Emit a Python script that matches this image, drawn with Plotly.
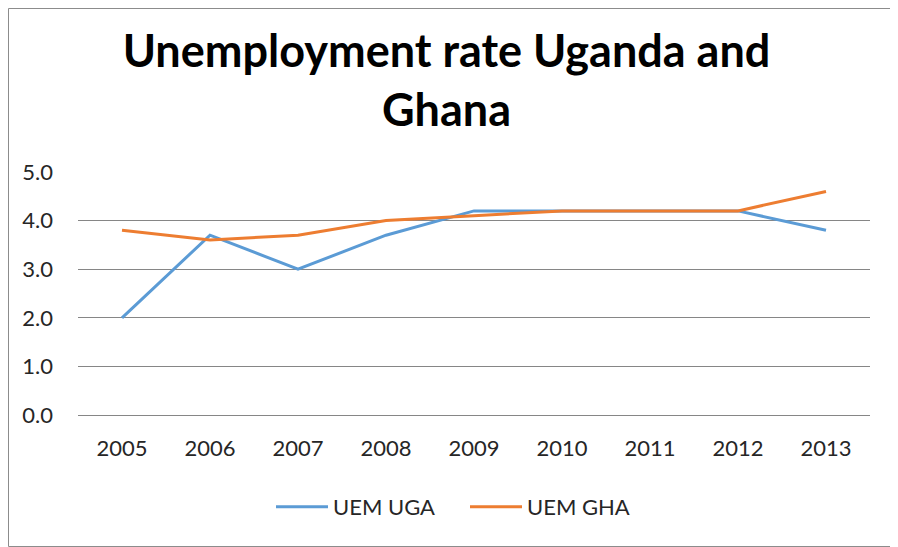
import plotly.graph_objects as go

years = ["2005", "2006", "2007", "2008", "2009", "2010", "2011", "2012", "2013"]
uem_uga = [2.0, 3.7, 3.0, 3.7, 4.2, 4.2, 4.2, 4.2, 3.8]
uem_gha = [3.8, 3.6, 3.7, 4.0, 4.1, 4.2, 4.2, 4.2, 4.6]

# page body has an 8px margin, so the figure is 8px smaller each way
W, H = 890, 539
L, R, T, B = 70, 28, 164, 132

fig = go.Figure()
fig.add_trace(go.Scatter(x=years, y=uem_uga, mode="lines", name="UEM UGA",
                         line=dict(color="#5B9BD5", width=3)))
fig.add_trace(go.Scatter(x=years, y=uem_gha, mode="lines", name="UEM GHA",
                         line=dict(color="#ED7D31", width=3)))

# thin grey frame round the whole chart
pw, ph = W - L - R, H - T - B
fig.add_shape(type="rect", xref="paper", yref="paper",
              x0=(-L + 0.5) / pw, x1=(pw + R - 0.5) / pw,
              y0=(-B + 0.5) / ph, y1=(ph + T - 0.5) / ph,
              line=dict(color="#8C8C8C", width=1))

fig.update_layout(
    width=W, height=H,
    margin=dict(l=L, r=R, t=T, b=B),
    paper_bgcolor="white", plot_bgcolor="white",
    font=dict(family="Lato, Open Sans, sans-serif", size=22, color="#262626"),
    title=dict(text="<b>Unemployment rate Uganda and<br>Ghana</b>",
               x=438.5 / W, xref="container", xanchor="center",
               y=1 - 59 / H, yref="container", yanchor="middle",
               font=dict(size=45, color="black")),
    xaxis=dict(type="category", showgrid=False, showline=False, zeroline=False,
               ticks="", ticklabelstandoff=18, range=[-0.5, 8.5]),
    yaxis=dict(range=[0, 5], dtick=1, tickformat=".1f", showgrid=True,
               gridcolor="#868686", gridwidth=1, zeroline=True,
               zerolinecolor="#868686", zerolinewidth=1, showline=False,
               ticks="", ticklabelstandoff=24),
    legend=dict(orientation="h", x=(457 - L) / pw, xanchor="center",
                y=-(499 - (H - B)) / ph, yanchor="middle",
                font=dict(size=22), itemwidth=52, entrywidth=127),
    showlegend=True,
)

fig.write_html("out.html")
